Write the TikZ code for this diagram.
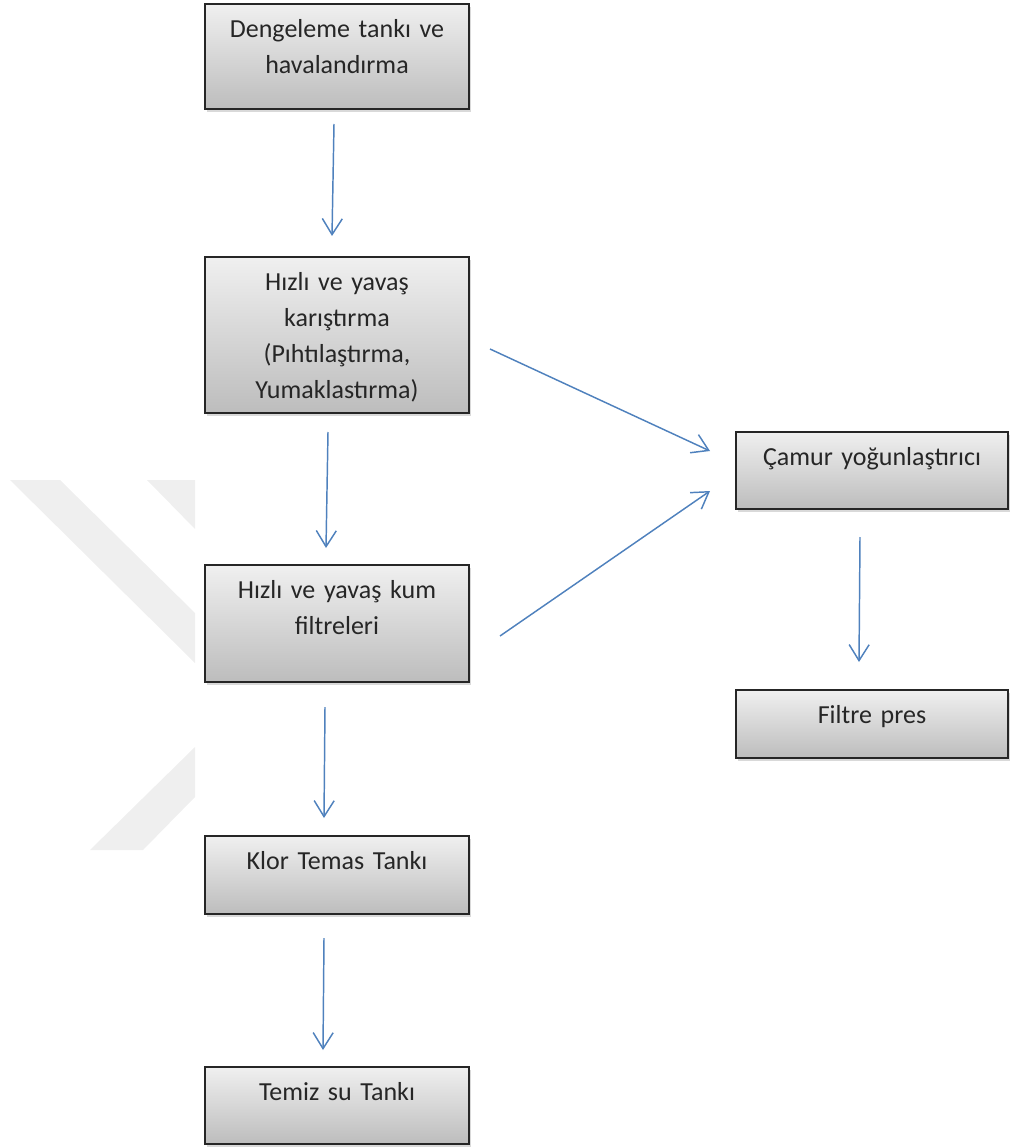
\documentclass[tikz,border=0pt]{standalone}
\usepackage{fontspec}
\setmainfont{Carlito}
\usetikzlibrary{arrows.meta,calc,shadows}
\definecolor{flowblue}{HTML}{4F81BD}
\definecolor{markgray}{HTML}{EFEFEF}

\begin{document}
\begin{tikzpicture}[x=0.75pt, y=-0.75pt, >={Straight Barb[length=12pt,width=15pt]},
		box/.style={draw=black!85, line width=1.5pt, top color=black!6, bottom color=black!26,
			drop shadow={shadow xshift=1.5pt, shadow yshift=-2pt, opacity=0.3},
			anchor=north west, align=center, text width=180pt, inner xsep=9pt, inner ysep=12pt,
			text height=13pt, text=black!85, font=\fontsize{19.5pt}{27pt}\selectfont},
		widebox/.style={box, text width=186pt},
		flow/.style={->, flowblue, line width=1.1pt}]
		\useasboundingbox (0,0) rectangle (1009,1148);
		% watermark
		\fill[markgray] (10,480) -- (60,480) -- (195,613) -- (195,663) -- cycle;
		\fill[markgray] (147,480) -- (195,480) -- (195,529) -- cycle;
		\fill[markgray] (195,747) -- (195,797) -- (143,850) -- (90,850) -- cycle;
		% main line
		\node[box, text depth=41.75pt] (denge) at (204,3) {Dengeleme tankı ve\\havalandırma};
		\node[box, text depth=80pt] (karis) at (204,256) {Hızlı ve yavaş\\karıştırma\\(Pıhtılaştırma,\\Yumaklastırma)};
		\node[box, text depth=50.75pt] (kum) at (204,564) {Hızlı ve yavaş kum\\filtreleri};
		\node[box, text depth=21.5pt] (klor) at (204,835) {Klor Temas Tankı};
		\node[box, text depth=20.75pt] (temiz) at (204,1066) {Temiz su Tankı};
		% sludge line
		\node[widebox, text depth=20.75pt] (camur) at (735,431) {Çamur yoğunlaştırıcı};
		\node[widebox, text depth=14pt] (pres) at (735,689) {Filtre pres};
		% arrows
		\foreach \s/\t/\ds/\dt in {denge/karis/{-3,14}/{-5,-20}, karis/kum/{-9,18}/{-11,-16},
				kum/klor/{-12,24}/{-13,-17}, klor/temiz/{-13,23}/{-14,-16}, camur/pres/{-12,27}/{-13,-27}} {
			\draw[flow] ($(\s.south)+(\ds)$) -- ($(\t.north)+(\dt)$);
		}
		\draw[flow] ($(karis.east)+(20,14)$) -- ($(camur.west)+(-25,-19.5)$);
		\draw[flow] ($(kum.east)+(30,12.5)$) -- ($(camur.west)+(-25,20.5)$);
	\end{tikzpicture}
\end{document}
